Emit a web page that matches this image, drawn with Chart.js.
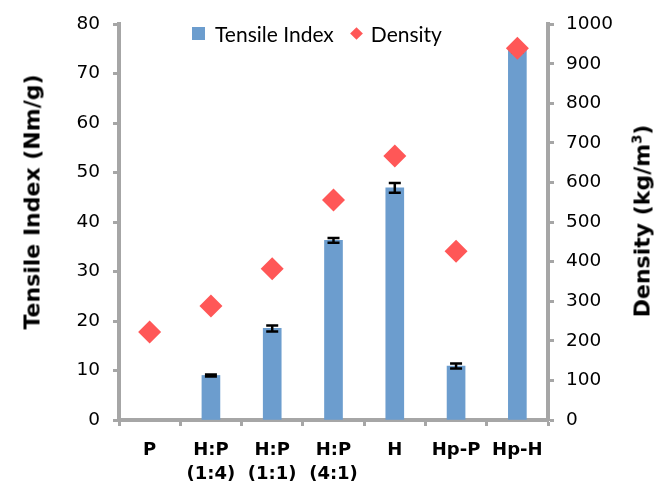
<!DOCTYPE html>
<html>
<head>
<meta charset="utf-8">
<script src="https://cdn.jsdelivr.net/npm/chart.js@4.4.1/dist/chart.umd.min.js"></script>
<style>
  body { margin: 0; background: #fff; }
  #wrap { position: relative; width: 656px; height: 483px; }
  .ytitle {
    position: absolute;
    font: bold 22px "DejaVu Sans", sans-serif;
    color: #000;
    white-space: nowrap;
    transform: translate(-50%, -50%) rotate(-90deg);
  }
  .ytitle sup { font-size: 0.6em; line-height: 0; }
  #legend {
    position: absolute; left: 192px; top: 19px; height: 28px;
    display: flex; align-items: center;
    font: 21px Lato, sans-serif; color: #000;
  }
  #legend .item { display: flex; align-items: center; margin-right: 16px; }
  #legend .box { width: 13px; height: 13px; margin-right: 10px; }
  #legend .dia { width: 9px; height: 9px; transform: rotate(45deg); margin: 0 10px 0 2px; }
</style>
</head>
<body>
<div id="wrap">
  <canvas id="myChart"></canvas>
  <div id="legend"></div>
  <div class="ytitle" style="left:32px; top:202px;">Tensile Index (Nm/g)</div>
  <div class="ytitle" style="left:642px; top:221px;">Density (kg/m<sup>3</sup>)</div>
</div>
<script>
const categories = ['P', ['H:P', '(1:4)'], ['H:P', '(1:1)'], ['H:P', '(4:1)'], 'H', 'Hp-P', 'Hp-H'];
const tensileIndex = [null, 9.0, 18.5, 36.3, 46.9, 10.9, 74.9];
const tensileError = [null, 0.2, 0.6, 0.5, 1.0, 0.5, 0.6];
const density = [222, 288, 382, 556, 667, 426, 939];

const axisGray = '#a6a6a6';
const barBlue = '#6c9dce';
const diamondRed = '#ff5757';

// black error bars on top of each bar, drawn before the diamonds
const errorBars = {
  id: 'errorBars',
  afterDatasetDraw(chart, args) {
    if (args.index !== 0) return;
    const ctx = chart.ctx;
    const y = chart.scales.y;
    ctx.save();
    ctx.strokeStyle = '#000';
    ctx.lineWidth = 2.5;
    args.meta.data.forEach((bar, i) => {
      const v = tensileIndex[i], e = tensileError[i];
      if (v == null || e == null) return;
      const top = y.getPixelForValue(v + e);
      const bot = y.getPixelForValue(v - e);
      ctx.beginPath();
      ctx.moveTo(bar.x, top); ctx.lineTo(bar.x, bot);
      ctx.moveTo(bar.x - 6, top); ctx.lineTo(bar.x + 6, top);
      ctx.moveTo(bar.x - 6, bot); ctx.lineTo(bar.x + 6, bot);
      ctx.stroke();
    });
    ctx.restore();
  }
};

const tickFont = { family: 'DejaVu Sans', size: 18.5 };

const chart = new Chart(document.getElementById('myChart'), {
  type: 'bar',
  data: {
    labels: categories,
    datasets: [{
      label: 'Tensile Index',
      data: tensileIndex,
      backgroundColor: barBlue,
      barThickness: 18,
      yAxisID: 'y',
      order: 2
    }, {
      type: 'line',
      label: 'Density',
      data: density,
      showLine: false,
      pointStyle: 'rectRot',
      pointRadius: 11.5,
      pointBorderWidth: 0,
      pointBackgroundColor: diamondRed,
      pointBorderColor: diamondRed,
      yAxisID: 'y1',
      order: 1
    }]
  },
  options: {
    responsive: true,
    maintainAspectRatio: false,
    animation: false,
    layout: { padding: { top: 23, left: 0, right: 0, bottom: 0 } },
    plugins: {
      legend: { display: false },
      tooltip: { enabled: false }
    },
    scales: {
      x: {
        afterFit: s => { s.height = 63; },
        grid: { offset: true, drawOnChartArea: false, tickLength: 6, tickWidth: 3, tickColor: axisGray },
        border: { color: axisGray, width: 4 },
        ticks: { color: '#000', padding: 13, maxRotation: 0, autoSkip: false,
                 font: { family: 'DejaVu Sans', size: 18, weight: 'bold', lineHeight: 1.3 } }
      },
      y: {
        position: 'left',
        min: 0, max: 80,
        afterFit: s => { s.width = 119; },
        grid: { drawOnChartArea: false, tickLength: 6, tickWidth: 3, tickColor: axisGray },
        border: { color: axisGray, width: 4 },
        ticks: { stepSize: 10, color: '#000', padding: 13, font: tickFont }
      },
      y1: {
        position: 'right',
        min: 0, max: 1000,
        afterFit: s => { s.width = 108; },
        grid: { drawOnChartArea: false, tickLength: 6, tickWidth: 3, tickColor: axisGray },
        border: { color: axisGray, width: 4 },
        ticks: { stepSize: 100, color: '#000', padding: 12, font: tickFont, callback: v => String(v) }
      }
    }
  },
  plugins: [errorBars]
});

// legend built from the datasets
const legend = document.getElementById('legend');
chart.data.datasets.forEach(ds => {
  const item = document.createElement('div');
  item.className = 'item';
  const mark = document.createElement('span');
  mark.className = ds.type === 'line' ? 'dia' : 'box';
  mark.style.background = ds.type === 'line' ? ds.pointBackgroundColor : ds.backgroundColor;
  item.appendChild(mark);
  item.appendChild(document.createTextNode(ds.label));
  legend.appendChild(item);
});
</script>
</body>
</html>
